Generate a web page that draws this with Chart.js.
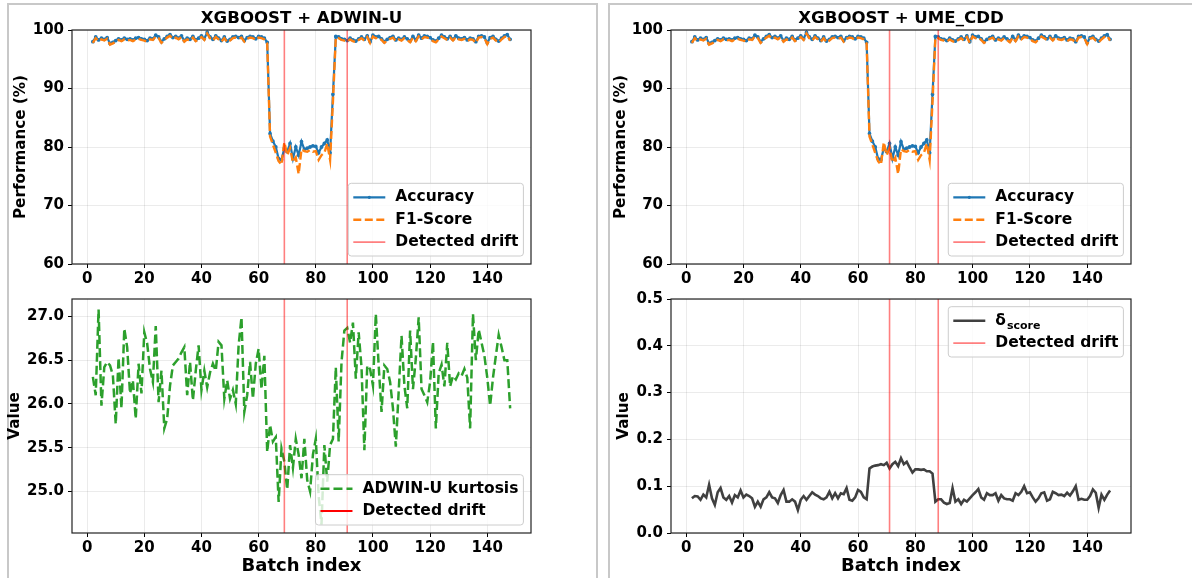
<!DOCTYPE html>
<html>
<head>
<meta charset="utf-8">
<script src="https://cdn.jsdelivr.net/npm/chart.js@4.4.1/dist/chart.umd.min.js"></script>
<style>
  body { margin: 0; background: #fff; }
  #wrap { position: relative; width: 1192px; height: 578px; overflow: hidden; }
  .frame { position: absolute; border: 2px solid #c8c8c8; }
  canvas { position: absolute; }
</style>
</head>
<body>
<div id="wrap">
  <div class="frame" style="left:7px;top:3px;width:587px;height:600px"></div>
  <div class="frame" style="left:608px;top:3px;width:600px;height:600px"></div>
  <canvas id="perfAdwin" width="596" height="290" style="left:0;top:0"></canvas>
  <canvas id="kurtAdwin" width="596" height="302" style="left:0;top:276px"></canvas>
  <canvas id="perfUme" width="596" height="290" style="left:596px;top:0"></canvas>
  <canvas id="deltaUme" width="596" height="302" style="left:596px;top:276px"></canvas>
</div>
<script>
// batch index of the first value in every series
const firstBatch = 2;

const accuracy = [
  98.0, 98.8, 98.3, 98.6, 98.4, 98.7, 97.7, 97.9, 98.2, 98.5,
  98.3, 98.6, 98.4, 98.5, 98.3, 98.6, 98.7, 98.5, 98.4, 98.2,
  98.6, 98.5, 99.1, 98.8, 98.0, 98.5, 98.9, 99.2, 98.7, 98.9,
  98.6, 99.0, 98.2, 98.6, 98.4, 98.9, 98.3, 98.6, 99.0, 98.5,
  99.6, 98.8, 98.4, 99.0, 98.6, 98.2, 98.8, 98.1, 98.4, 98.8,
  98.9, 98.7, 98.9, 98.2, 98.7, 98.9, 98.8, 98.5, 98.9, 98.8,
  98.6, 97.9,
  82.3, 81.0, 80.0, 78.0, 77.8, 79.8, 79.2, 80.6, 78.0, 80.0,
  78.6, 80.9, 79.6, 79.8, 80.0, 80.2, 80.1, 79.0, 80.0, 80.6,
  81.2, 79.0, 89.0,
  98.9, 98.8, 98.5, 98.4, 98.2, 98.6, 98.3, 98.1, 98.5, 98.8,
  98.4, 99.0, 98.0, 99.1, 98.8, 98.9, 98.5, 98.0, 98.4, 98.7,
  98.9, 98.3, 98.6, 98.4, 98.8, 98.5, 98.1, 98.9, 98.3, 99.1,
  98.6, 99.0, 98.9, 98.7, 98.3, 98.1, 98.6, 99.1, 98.8, 98.5,
  98.9, 98.4, 99.0, 98.6, 98.5, 98.7, 98.3, 98.6, 98.5, 98.0,
  98.9, 99.0, 98.8, 97.8, 98.7, 98.9, 98.4, 98.1, 98.6, 99.0,
  99.2, 98.4
];

const f1Score = [
  97.8, 98.6, 98.1, 98.4, 98.2, 98.5, 97.5, 97.7, 98.0, 98.3,
  98.1, 98.4, 98.2, 98.3, 98.1, 98.4, 98.5, 98.3, 98.2, 98.0,
  98.4, 98.3, 98.9, 98.6, 97.8, 98.3, 98.7, 99.0, 98.5, 98.7,
  98.4, 98.8, 98.0, 98.4, 98.2, 98.7, 98.1, 98.4, 98.8, 98.3,
  99.4, 98.6, 98.2, 98.8, 98.4, 98.0, 98.6, 97.9, 98.2, 98.6,
  98.7, 98.5, 98.7, 98.0, 98.5, 98.7, 98.6, 98.3, 98.7, 98.6,
  98.4, 97.7,
  81.8, 80.4, 79.0, 77.6, 77.0, 80.8, 78.6, 79.8, 77.4, 78.2,
  75.4, 79.6, 79.3, 79.2, 79.5, 79.2, 79.3, 77.8, 78.6, 79.0,
  80.6, 77.8, 87.8,
  98.7, 98.6, 98.3, 98.2, 98.0, 98.4, 98.1, 97.9, 98.3, 98.6,
  98.2, 98.8, 97.8, 98.9, 98.6, 98.7, 98.3, 97.8, 98.2, 98.5,
  98.7, 98.1, 98.4, 98.2, 98.6, 98.3, 97.9, 98.7, 98.1, 98.9,
  98.4, 98.8, 98.7, 98.5, 98.1, 97.9, 98.4, 98.9, 98.6, 98.3,
  98.7, 98.2, 98.8, 98.4, 98.3, 98.5, 98.1, 98.4, 98.3, 97.8,
  98.7, 98.8, 98.6, 97.6, 98.5, 98.7, 98.2, 97.9, 98.4, 98.8,
  99.0, 98.2
];

const adwinKurtosis = [
  26.31, 26.10, 27.08, 25.98, 26.42, 26.48, 26.44, 26.33, 25.77, 26.53,
  25.95, 26.86, 26.65, 26.12, 26.27, 25.83, 26.46, 26.12, 26.82, 26.69,
  26.40, 26.25, 26.89, 26.02, 26.38, 25.72, 25.83, 26.21, 26.44, 26.48,
  26.52, 26.59, 26.65, 26.10, 26.48, 26.04, 26.38, 26.67, 26.16, 26.38,
  26.19, 26.36, 26.46, 26.38, 26.71, 26.67, 26.06, 26.27, 26.06, 26.16,
  26.00, 26.67, 26.99, 25.91, 26.10, 26.48, 26.06, 26.46, 26.63, 26.17,
  26.55, 25.45, 25.76, 25.57, 25.62, 24.88, 25.49, 25.34, 25.02, 25.53,
  25.27, 25.60, 25.42, 25.15, 25.60, 25.13, 25.00, 25.42, 25.60, 24.95,
  24.62, 25.53, 25.11, 25.53, 25.60, 26.42, 25.57, 26.48, 26.84, 26.87,
  26.70, 26.93, 26.29, 26.82, 26.42, 25.47, 26.44, 26.40, 26.21, 27.03,
  26.44, 25.91, 26.44, 26.40, 26.25, 25.95, 25.51, 26.14, 26.78, 26.21,
  25.95, 26.84, 26.17, 26.52, 26.99, 26.17, 26.10, 26.02, 26.25, 26.71,
  25.72, 26.35, 26.45, 26.20, 26.70, 26.20, 26.32, 26.28, 26.35, 26.32,
  26.40, 26.30, 25.72, 27.03, 26.50, 26.85, 26.70, 26.55, 26.30, 25.98,
  26.30, 26.55, 26.79, 26.65, 26.50, 26.50, 25.95
];

const deltaScore = [
  0.074, 0.079, 0.078, 0.071, 0.082, 0.076, 0.103, 0.074, 0.060, 0.087,
  0.096, 0.076, 0.071, 0.079, 0.065, 0.081, 0.076, 0.091, 0.076, 0.082,
  0.079, 0.074, 0.056, 0.067, 0.056, 0.072, 0.076, 0.087, 0.076, 0.074,
  0.064, 0.081, 0.092, 0.067, 0.067, 0.072, 0.067, 0.049, 0.071, 0.079,
  0.071, 0.079, 0.087, 0.082, 0.079, 0.074, 0.072, 0.076, 0.088, 0.074,
  0.085, 0.074, 0.085, 0.083, 0.096, 0.071, 0.069, 0.076, 0.092, 0.088,
  0.076, 0.072, 0.138, 0.142, 0.144, 0.145, 0.147, 0.145, 0.150, 0.138,
  0.147, 0.152, 0.143, 0.160, 0.147, 0.152, 0.140, 0.129, 0.136, 0.136,
  0.135, 0.136, 0.132, 0.132, 0.127, 0.067, 0.072, 0.072, 0.065, 0.062,
  0.064, 0.096, 0.067, 0.072, 0.062, 0.071, 0.067, 0.074, 0.081, 0.087,
  0.094, 0.076, 0.071, 0.085, 0.081, 0.081, 0.085, 0.069, 0.081, 0.074,
  0.072, 0.072, 0.069, 0.085, 0.081, 0.088, 0.100, 0.085, 0.087, 0.076,
  0.067, 0.074, 0.085, 0.087, 0.069, 0.072, 0.088, 0.085, 0.081, 0.082,
  0.079, 0.086, 0.080, 0.089, 0.100, 0.071, 0.073, 0.071, 0.071, 0.079,
  0.093, 0.086, 0.054, 0.082, 0.071, 0.082, 0.091
];

const driftAdwin = [69, 91];
const driftUme = [71, 88];

const xTicks = [0, 20, 40, 60, 80, 100, 120, 140];
const perfTicks = [60, 70, 80, 90, 100];
const kurtTicks = [25.0, 25.5, 26.0, 26.5, 27.0];
const deltaTicks = [0.0, 0.1, 0.2, 0.3, 0.4, 0.5];

Chart.defaults.font.family = "'DejaVu Sans', sans-serif";
Chart.defaults.font.weight = 'bold';
Chart.defaults.color = '#000';

const FONT = "'DejaVu Sans', sans-serif";
const LEG = 15.5;
const gridColor = 'rgba(0,0,0,0.1)';
const driftColor = 'rgba(255,0,0,0.5)';

function toPoints(values) {
  return values.map((v, i) => ({ x: firstBatch + i, y: v }));
}

function legendBox(chart, cfg) {
  const { ctx, chartArea: a } = chart;
  ctx.font = 'bold ' + LEG + 'px ' + FONT;
  const widths = cfg.items.map(it => {
    let w = ctx.measureText(it.label).width;
    if (it.sub) {
      ctx.font = 'bold 11px ' + FONT;
      w += ctx.measureText(it.sub).width + 1;
      ctx.font = 'bold ' + LEG + 'px ' + FONT;
    }
    return w;
  });
  const rowH = 22.4;
  const w = 5 + 32 + 10 + Math.max(...widths) + 5;
  const h = cfg.items.length * rowH + 5.5;
  const x0 = a.right - 7.6 - w;
  const y0 = cfg.loc === 'upper' ? a.top + 7.7 : a.bottom - 8 - h;

  ctx.beginPath();
  ctx.roundRect(x0, y0, w, h, 3);
  ctx.fillStyle = 'rgba(255,255,255,0.8)';
  ctx.fill();
  ctx.strokeStyle = '#cccccc';
  ctx.lineWidth = 1;
  ctx.stroke();

  cfg.items.forEach((it, i) => {
    const cy = y0 + 2.8 + rowH * (i + 0.5);
    const lx = x0 + 5;
    ctx.save();
    ctx.strokeStyle = it.color;
    ctx.lineWidth = it.width;
    ctx.setLineDash(it.dash || []);
    ctx.beginPath();
    ctx.moveTo(lx, cy);
    ctx.lineTo(lx + 32, cy);
    ctx.stroke();
    if (it.marker) {
      ctx.fillStyle = it.color;
      ctx.beginPath();
      ctx.arc(lx + 16, cy, 1.6, 0, Math.PI * 2);
      ctx.fill();
    }
    ctx.restore();
    const tx = lx + 32 + 10;
    ctx.fillStyle = '#000';
    ctx.textAlign = 'left';
    ctx.textBaseline = 'middle';
    ctx.font = 'bold ' + LEG + 'px ' + FONT;
    ctx.fillText(it.label, tx, cy);
    if (it.sub) {
      const sw = ctx.measureText(it.label).width;
      ctx.font = 'bold 11px ' + FONT;
      ctx.fillText(it.sub, tx + sw + 1, cy + 5);
    }
  });
}

const decor = {
  id: 'decor',
  afterDatasetsDraw(chart, args, o) {
    const { ctx, chartArea: a } = chart;
    const xs = chart.scales.x;
    ctx.save();
    ctx.strokeStyle = driftColor;
    ctx.lineWidth = 1.6;
    o.drifts.forEach(d => {
      const px = xs.getPixelForValue(d);
      ctx.beginPath();
      ctx.moveTo(px, a.top);
      ctx.lineTo(px, a.bottom);
      ctx.stroke();
    });
    ctx.strokeStyle = '#222';
    ctx.lineWidth = 1.2;
    ctx.strokeRect(a.left, a.top, a.right - a.left, a.bottom - a.top);
    if (o.title) {
      ctx.fillStyle = '#000';
      ctx.font = 'bold 16.6px ' + FONT;
      ctx.textAlign = 'center';
      ctx.textBaseline = 'alphabetic';
      ctx.fillText(o.title, (a.left + a.right) / 2, 23);
    }
    legendBox(chart, o.legend);
    ctx.restore();
  }
};

function xScale(height, title) {
  return {
    type: 'linear', min: -5.3, max: 155.3,
    afterBuildTicks: s => { s.ticks = xTicks.map(v => ({ value: v })); },
    afterFit: s => { s.height = height; },
    grid: { color: gridColor, lineWidth: 0.8, tickColor: '#000', tickLength: 4, tickWidth: 1 },
    border: { display: false },
    ticks: { font: { size: 15, weight: 'bold' }, padding: 2, maxRotation: 0, autoSkip: false },
    title: title ? { display: true, text: title, font: { size: 18, weight: 'bold' }, padding: { top: 0, bottom: 0.5 } } : { display: false }
  };
}

function yScale(min, max, ticks, digits, width, title, pad) {
  return {
    type: 'linear', min: min, max: max,
    afterBuildTicks: s => { s.ticks = ticks.map(v => ({ value: v })); },
    afterFit: s => { s.width = width; },
    grid: { color: gridColor, lineWidth: 0.8, tickColor: '#000', tickLength: 4, tickWidth: 1 },
    border: { display: false },
    ticks: { font: { size: 15, weight: 'bold' }, padding: 4, callback: v => v.toFixed(digits) },
    title: { display: true, text: title, font: { size: 15.2, weight: 'bold' }, padding: { top: pad, bottom: 0 } }
  };
}

function perfDatasets() {
  return [
    { label: 'Accuracy', data: toPoints(accuracy), borderColor: '#1f77b4', backgroundColor: '#1f77b4',
      borderWidth: 2.2, pointRadius: 0.8, pointHoverRadius: 0, tension: 0, order: 1 },
    { label: 'F1-Score', data: toPoints(f1Score), borderColor: '#ff7f0e', borderWidth: 2.4,
      borderDash: [8, 3.5], pointRadius: 0, tension: 0, order: 0 }
  ];
}

const perfLegend = {
  loc: 'lower',
  items: [
    { label: 'Accuracy', color: '#1f77b4', width: 2.2, marker: true },
    { label: 'F1-Score', color: '#ff7f0e', width: 2.4, dash: [8, 3.5] },
    { label: 'Detected drift', color: driftColor, width: 1.6 }
  ]
};

function makeChart(id, datasets, scales, padding, decorOpts) {
  return new Chart(document.getElementById(id), {
    type: 'line',
    data: { datasets: datasets },
    options: {
      responsive: false, animation: false, devicePixelRatio: 1,
      layout: { padding: padding },
      scales: scales,
      plugins: { legend: { display: false }, title: { display: false }, tooltip: { enabled: false }, decor: decorOpts }
    },
    plugins: [decor]
  });
}

makeChart('perfAdwin', perfDatasets(),
  { x: xScale(26), y: yScale(60, 100, perfTicks, 0, 72, 'Performance (%)', 11.8) },
  { left: 0, top: 30, right: 65, bottom: 0 },
  { title: 'XGBOOST + ADWIN-U', drifts: driftAdwin, legend: perfLegend });

makeChart('kurtAdwin', [
    { label: 'ADWIN-U kurtosis', data: toPoints(adwinKurtosis), borderColor: '#2ca02c', borderWidth: 2.5,
      borderDash: [9, 4], pointRadius: 0, tension: 0 }
  ],
  { x: xScale(45, 'Batch index'), y: yScale(24.524, 27.2, kurtTicks, 1, 72, 'Value', 5.6) },
  { left: 0, top: 23, right: 65, bottom: 0 },
  { drifts: driftAdwin, legend: { loc: 'lower', items: [
    { label: 'ADWIN-U kurtosis', color: '#2ca02c', width: 2.5, dash: [9, 4] },
    { label: 'Detected drift', color: '#ff0000', width: 2 }
  ] } });

makeChart('perfUme', perfDatasets(),
  { x: xScale(26), y: yScale(60, 100, perfTicks, 0, 75, 'Performance (%)', 15.8) },
  { left: 0, top: 30, right: 61, bottom: 0 },
  { title: 'XGBOOST + UME_CDD', drifts: driftUme, legend: perfLegend });

makeChart('deltaUme', [
    { label: 'δscore', data: toPoints(deltaScore), borderColor: '#404040', borderWidth: 2.6,
      pointRadius: 0, tension: 0 }
  ],
  { x: xScale(45, 'Batch index'), y: yScale(0, 0.5, deltaTicks, 1, 75, 'Value', 18.8) },
  { left: 0, top: 23, right: 61, bottom: 0 },
  { drifts: driftUme, legend: { loc: 'upper', items: [
    { label: 'δ', sub: 'score', color: '#404040', width: 2.6 },
    { label: 'Detected drift', color: driftColor, width: 1.6 }
  ] } });
</script>
</body>
</html>
